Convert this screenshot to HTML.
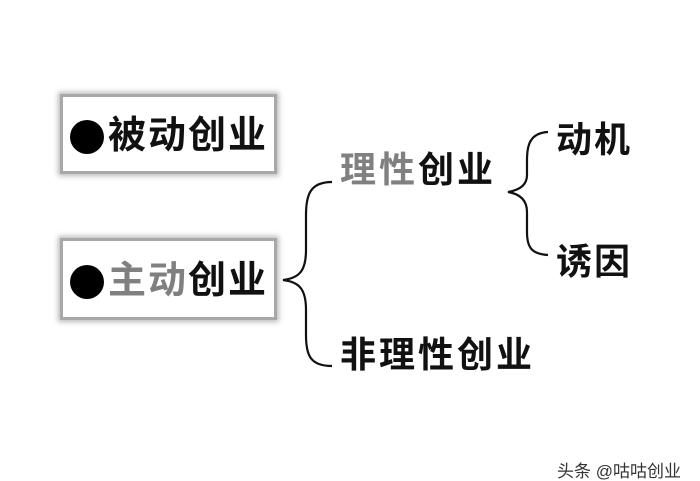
<!DOCTYPE html>
<html><head><meta charset="utf-8"><style>
body{margin:0;width:700px;height:470px;background:#fff;position:relative;overflow:hidden;font-family:"Liberation Sans","Noto Sans CJK SC",sans-serif;}
.box{position:absolute;left:60px;width:211px;background:#fff;border:3px solid #a8a8a8;box-shadow:0 0 5px 2px #bbb;}
.t{position:absolute;white-space:nowrap;color:#111;line-height:1;font-weight:bold;letter-spacing:2px}
.g{color:#808080}
.dot{position:absolute;width:34px;height:34px;border-radius:50%;background:#000}
</style></head><body>
<div class="box" style="top:94px;height:74px"></div>
<div class="box" style="top:238px;height:76px"></div>
<div class="dot" style="left:70px;top:120px"></div>
<div class="dot" style="left:70px;top:265px"></div>
<div class="t" style="left:108px;top:117px;font-size:38px">被动创业</div>
<div class="t" style="left:108px;top:262px;font-size:38px"><span class="g">主动</span>创业</div>
<div class="t" style="left:340px;top:152px;font-size:36px;letter-spacing:3px"><span class="g">理性</span>创业</div>
<div class="t" style="left:340px;top:337px;font-size:36px;letter-spacing:3px">非理性创业</div>
<div class="t" style="left:556px;top:122px;font-size:36px">动机</div>
<div class="t" style="left:556px;top:244px;font-size:36px">诱因</div>
<div class="t" style="left:557px;top:463px;font-size:17px;color:#333;font-weight:normal;letter-spacing:0">头条 @咕咕创业</div>
<svg width="700" height="470" style="position:absolute;left:0;top:0" fill="none" stroke="#111" stroke-width="2.2">
<path d="M332,182 C310,182 306,195 306,215 L306,250 C306,270 300,278 283,280 C300,282 306,290 306,310 L306,335 C306,355 310,366 332,366"/>
<path d="M548,132 C530,133 527,145 527,160 L527,175 C527,185 520,190 508,192 C520,194 527,200 527,212 L527,232 C527,248 532,254 548,255"/>
</svg>
</body></html>
